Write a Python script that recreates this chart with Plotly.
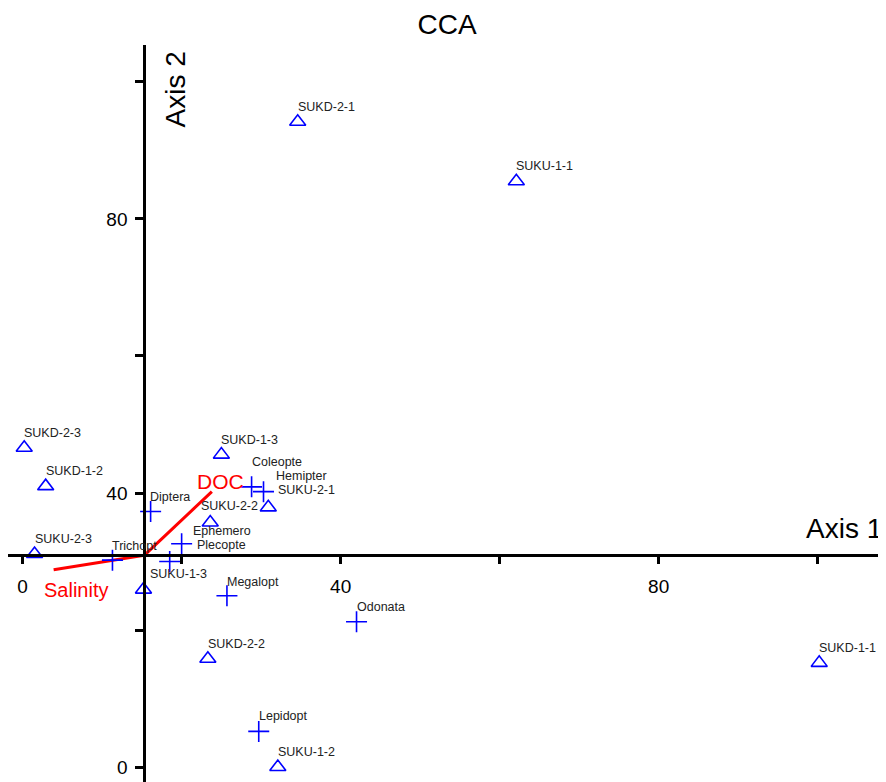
import plotly.graph_objects as go

# ---- data ----
site_names = ["SUKD-2-1", "SUKU-1-1", "SUKD-1-1", "SUKD-2-3", "SUKD-1-2", "SUKD-1-3",
              "SUKU-2-1", "SUKU-2-2", "SUKU-2-3", "SUKU-1-3", "SUKD-2-2", "SUKU-1-2"]
site_x = [34.6, 62.1, 100.2, 0.2, 2.9, 25.0, 30.9, 23.6, 1.5, 15.2, 23.3, 32.1]
site_y = [94.2, 85.5, 15.2, 46.6, 41.0, 45.6, 37.9, 35.7, 31.1, 25.9, 15.8, 0.0]

species_names = ["Diptera", "Coleopte", "Hemipter", "Ephemero", "Plecopte",
                 "Trichopt", "Megalopt", "Odonata", "Lepidopt"]
species_x = [16.1, 28.8, 30.3, 20.0, 18.5, 11.3, 25.7, 42.0, 29.7]
species_y = [37.3, 40.9, 40.2, 32.6, 30.0, 30.2, 25.0, 21.2, 5.2]

env_names = ["DOC", "Salinity"]
env_x = [23.8, 3.9]
env_y = [40.2, 28.8]

origin_x = 15.3
origin_y = 30.9

x_ticks = [0, 20, 40, 60, 80, 100]
x_tick_text = ["0", "", "40", "", "80", ""]
y_ticks = [0, 20, 40, 60, 80, 100]
y_tick_text = ["0", "", "40", "", "80", ""]

x_range = [-1.84, 108.6]
y_range = [-2.19, 105.4]

# ---- styling (label nudges in px) ----
default_shift = (0, 15)
label_nudge = {
    "SUKU-2-1": (10, 17), "SUKU-2-2": (-9, 16), "SUKU-1-3": (7, 16),
    "Coleopte": (0, 25), "Hemipter": (12, 16), "Ephemero": (11, 13),
    "Plecopte": (27, 17), "Diptera": (-1, 14), "Trichopt": (0, 14),
    "Megalopt": (0, 14),
}
FONT = "Arial, Liberation Sans, sans-serif"
BLUE = "#0000FF"
RED = "#FF0000"

fig = go.Figure()

# environmental vectors
for name, ex, ey in zip(env_names, env_x, env_y):
    fig.add_trace(go.Scatter(x=[origin_x, ex], y=[origin_y, ey], mode="lines",
                             line=dict(color=RED, width=3), hoverinfo="skip"))

fig.add_trace(go.Scatter(x=site_x, y=site_y, mode="markers",
                         marker=dict(symbol="triangle-up-open", size=14,
                                     line=dict(color=BLUE, width=1.6), color=BLUE)))
fig.add_trace(go.Scatter(x=species_x, y=species_y, mode="markers",
                         marker=dict(symbol="cross-thin-open", size=15,
                                     line=dict(color=BLUE, width=1.6), color=BLUE)))

annotations = []
for names, xs, ys in [(site_names, site_x, site_y), (species_names, species_x, species_y)]:
    for n, x, y in zip(names, xs, ys):
        dx, dy = label_nudge.get(n, default_shift)
        annotations.append(dict(x=x, y=y, text=n, showarrow=False, xanchor="left",
                                yanchor="middle", xshift=dx - 2, yshift=dy,
                                font=dict(family=FONT, size=12.5, color="#222222")))

# vector labels
annotations.append(dict(x=env_x[0], y=env_y[0], text=env_names[0], showarrow=False,
                        xanchor="center", yanchor="middle", xshift=9, yshift=10,
                        font=dict(family=FONT, size=21, color=RED)))
annotations.append(dict(x=env_x[1], y=env_y[1], text=env_names[1], showarrow=False,
                        xanchor="center", yanchor="middle", xshift=22, yshift=-20,
                        font=dict(family=FONT, size=20, color=RED)))

# axis titles
annotations.append(dict(x=1.0, y=origin_y, xref="paper", yref="y", text="Axis 1",
                        showarrow=False, xanchor="right", yanchor="bottom",
                        xshift=-2, yshift=9, font=dict(family=FONT, size=28, color="black")))
annotations.append(dict(x=0.1913, y=0.9396, xref="paper", yref="paper", text="Axis 2",
                        showarrow=False, textangle=-90, xanchor="center", yanchor="middle",
                        font=dict(family=FONT, size=28, color="black")))

xpos = (origin_y - y_range[0]) / (y_range[1] - y_range[0])
ypos = (origin_x - x_range[0]) / (x_range[1] - x_range[0])

fig.update_layout(
    width=878, height=774,
    margin=dict(l=0, r=0, t=37, b=0),
    paper_bgcolor="white", plot_bgcolor="white",
    showlegend=False,
    title=dict(text="CCA", x=0.5, y=0.979, xanchor="center", yanchor="middle",
               font=dict(family=FONT, size=28, color="black")),
    annotations=annotations,
    xaxis=dict(range=x_range, tickvals=x_ticks, ticktext=x_tick_text,
               ticks="outside", ticklen=7, tickwidth=3, tickcolor="black",
               showline=True, linewidth=3, linecolor="black",
               showgrid=False, zeroline=False, anchor="free", position=xpos,
               ticklabelstandoff=6, automargin=False,
               tickfont=dict(family=FONT, size=19, color="black")),
    yaxis=dict(range=y_range, tickvals=y_ticks, ticktext=y_tick_text,
               ticks="outside", ticklen=8, tickwidth=3, tickcolor="black",
               showline=True, linewidth=3, linecolor="black",
               showgrid=False, zeroline=False, anchor="free", position=ypos,
               ticklabelstandoff=4, automargin=False,
               tickfont=dict(family=FONT, size=19, color="black")),
)

fig.write_html("out.html")
